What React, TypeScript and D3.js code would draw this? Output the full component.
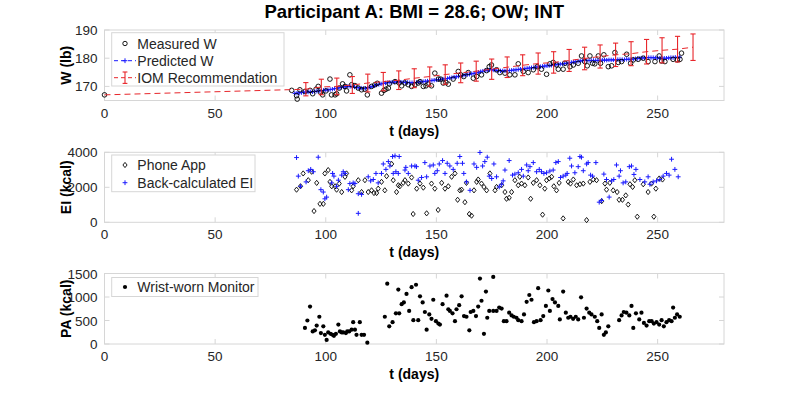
import React from "react";
import * as d3 from "d3";

const TITLE = "Participant A: BMI = 28.6; OW; INT";
const X_TICKS = [0, 50, 100, 150, 200, 250];
const W_TICKS = [170, 180, 190];
const EI_TICKS = [0, 2000, 4000];
const PA_TICKS = [0, 500, 1000, 1500];

// Measured weight [t, lb]
const MEASURED_W: [number, number][] = [
  [0, 167.0], [84.6, 168.6], [86.8, 166.7], [87.1, 165.5], [88.3, 168.8], [90.6, 168.2], [92.9, 168.6], [94.1, 167.4],
  [95.6, 169.0], [96.6, 170.0], [97.7, 167.9], [98.6, 167.0], [100.1, 168.4], [101.9, 172.6], [102.6, 167.0], [104.2, 167.0],
  [104.9, 167.4], [106.1, 169.4], [107.6, 170.9], [108.7, 170.0], [109.4, 168.4], [110.9, 174.1], [111.7, 170.6], [113.2, 170.3],
  [114.7, 169.4], [116.2, 168.8], [117.7, 169.0], [118.8, 167.0], [120.7, 170.0], [122.2, 170.6], [123.3, 171.1], [125.2, 167.6],
  [126.3, 168.6], [127.2, 169.0], [128.3, 169.4], [128.7, 170.9], [131.3, 171.7], [133.2, 171.2], [134.3, 170.2], [135.8, 171.2],
  [137.3, 170.6], [138.8, 170.0], [140.3, 170.6], [141.8, 171.2], [142.6, 171.7], [144.1, 170.0], [145.3, 170.2], [146.3, 170.8],
  [147.8, 170.2], [149.3, 174.7], [150.9, 172.6], [151.9, 172.6], [153.1, 171.2], [154.3, 171.4], [155.4, 170.8], [157.6, 172.6],
  [159.9, 175.3], [161.0, 174.1], [162.4, 173.5], [164.4, 174.9], [166.7, 172.9], [168.2, 173.5], [170.4, 174.1], [172.7, 175.6],
  [173.9, 177.0], [174.9, 177.6], [177.2, 175.9], [178.7, 174.9], [181.0, 174.7], [183.2, 174.1], [185.5, 174.1], [187.0, 178.0],
  [189.3, 175.3], [191.5, 174.9], [193.8, 175.9], [195.6, 177.0], [197.5, 176.1], [199.8, 174.3], [201.3, 178.0], [202.8, 178.5],
  [204.3, 177.6], [205.1, 176.1], [207.3, 176.1], [208.1, 178.2], [210.4, 177.0], [211.9, 177.6], [214.1, 178.2], [215.6, 180.8],
  [217.1, 178.8], [218.2, 177.3], [219.4, 180.8], [220.6, 178.2], [221.6, 178.0], [223.2, 180.8], [224.2, 178.2], [225.7, 181.2],
  [227.7, 177.0], [229.2, 177.3], [230.7, 182.0], [232.2, 178.5], [233.7, 178.8], [236.0, 181.4], [237.8, 178.2], [239.0, 179.4],
  [241.2, 179.6], [243.5, 180.0], [245.7, 178.8], [248.8, 178.8], [250.7, 180.8], [251.8, 179.0], [253.3, 178.8], [257.0, 179.6],
  [258.9, 179.4], [260.1, 179.6], [260.8, 181.8],
];

// Predicted weight, one value per day starting at PRED_START
const PRED_START = 86;
const PREDICTED_W = [
  167.5, 167.6, 167.7, 167.8, 167.9, 168.0, 168.0, 168.1, 168.1, 168.2,
  168.3, 168.4, 168.5, 168.6, 168.7, 168.8, 168.9, 169.0, 169.2, 169.3,
  169.5, 169.6, 169.8, 169.9, 170.0, 170.0, 169.9, 169.8, 169.6, 169.5,
  169.4, 169.3, 169.3, 169.5, 169.7, 170.0, 170.2, 170.5, 170.7, 170.9,
  171.1, 171.2, 171.3, 171.4, 171.5, 171.5, 171.6, 171.6, 171.5, 171.5,
  171.4, 171.4, 171.3, 171.3, 171.3, 171.4, 171.5, 171.6, 171.7, 171.8,
  171.9, 172.0, 172.1, 172.2, 172.3, 172.4, 172.5, 172.6, 172.7, 172.8,
  173.0, 173.1, 173.3, 173.4, 173.6, 173.7, 173.9, 174.0, 174.2, 174.3,
  174.5, 174.6, 174.8, 175.0, 175.2, 175.4, 175.6, 175.8, 175.9, 175.9,
  175.8, 175.7, 175.6, 175.5, 175.5, 175.5, 175.6, 175.6, 175.7, 175.8,
  175.9, 176.0, 176.1, 176.2, 176.3, 176.4, 176.5, 176.6, 176.7, 176.8,
  176.9, 177.0, 177.1, 177.2, 177.3, 177.4, 177.5, 177.6, 177.7, 177.8,
  177.9, 178.0, 178.1, 178.2, 178.3, 178.5, 178.6, 178.8, 178.9, 179.0,
  179.1, 179.2, 179.2, 179.2, 179.2, 179.2, 179.2, 179.2, 179.3, 179.3,
  179.3, 179.3, 179.4, 179.4, 179.4, 179.4, 179.5, 179.5, 179.5, 179.5,
  179.6, 179.6, 179.6, 179.7, 179.8, 179.9, 180.0, 180.1, 180.1, 180.2,
  180.2, 180.2, 180.2, 180.1, 180.1, 180.0, 180.0, 180.0, 180.0, 180.1,
  180.2, 180.2, 180.3, 180.3, 180.4,
];

// IOM recommendation
const IOM_T = [0, 91, 98, 105, 112, 119, 126, 133, 140, 147, 154, 161, 168, 175, 182, 189, 196, 203, 210, 217, 224, 231, 238, 245, 252, 259, 266];
const IOM_MEAN = [167.0, 169.0, 169.8, 170.0, 170.5, 171.2, 171.7, 172.2, 172.9, 173.5, 174.2, 174.8, 175.4, 176.1, 176.8, 177.5, 178.1, 178.5, 179.2, 179.9, 180.6, 181.2, 181.6, 182.3, 182.8, 183.2, 183.9];
const IOM_ERR = [0, 2.35, 2.75, 2.95, 3.0, 3.15, 3.25, 3.3, 3.35, 3.4, 3.45, 3.5, 3.55, 3.6, 3.65, 3.7, 3.75, 3.8, 3.9, 4.0, 4.1, 4.15, 4.25, 4.35, 4.45, 4.55, 4.7];

// Energy intake [t, kcal]
const PHONE_EI: [number, number][] = [
  [86.8, 1864], [88.6, 2058], [89.8, 2792], [92.1, 2406], [93.6, 2889], [94.7, 642], [95.9, 2251], [97.4, 1053],
  [98.9, 1053], [99.6, 2792], [101.1, 2985], [101.9, 2309], [102.7, 2058], [104.2, 2058], [104.9, 1864], [106.1, 2213],
  [107.2, 1729], [108.7, 2599], [109.4, 2792], [111.7, 1826], [112.4, 2058], [114.7, 2406], [116.2, 1730], [117.7, 2406],
  [119.2, 1730], [120.7, 1827], [121.8, 1672], [123.0, 1672], [123.7, 1923], [125.2, 2310], [126.7, 1827], [127.5, 2638],
  [129.8, 3334], [130.5, 2406], [132.0, 1730], [132.8, 2117], [133.5, 2058], [135.0, 2252], [135.8, 2406], [137.3, 2213],
  [138.8, 2561], [139.5, 474], [141.1, 1923], [142.6, 2213], [144.1, 1981], [145.6, 513], [147.8, 2213], [149.3, 1923],
  [150.8, 706], [152.4, 2252], [153.9, 1923], [155.4, 2058], [156.9, 2600], [158.4, 2793], [159.6, 1286], [160.6, 1827],
  [161.4, 1865], [162.9, 1150], [163.6, 2252], [164.9, 474], [165.9, 378], [167.0, 1827], [168.2, 2310], [168.9, 2445],
  [170.4, 2213], [171.5, 2020], [172.7, 1827], [174.2, 2793], [176.5, 1827], [177.2, 2020], [179.5, 2117], [181.0, 1730],
  [181.7, 1344], [182.9, 1401], [184.0, 1730], [185.5, 2406], [187.0, 2117], [187.7, 2600], [188.5, 2213], [190.0, 2117],
  [191.5, 2561], [192.6, 1344], [193.8, 2252], [195.3, 2406], [196.8, 2117], [198.0, 436], [199.0, 1923], [199.8, 2406],
  [201.0, 2503], [202.1, 2600], [203.1, 2058], [204.3, 1827], [205.5, 2252], [207.3, 223], [209.6, 2310], [210.6, 2213],
  [211.9, 2445], [213.4, 2117], [214.9, 2174], [216.4, 2213], [217.9, 126], [219.4, 2310], [220.9, 2445], [222.4, 2406],
  [224.7, 1208], [226.2, 2213], [226.9, 1865], [228.4, 2252], [229.9, 1827], [231.7, 1730], [232.6, 1286], [234.1, 1286],
  [235.6, 1537], [236.7, 1015], [237.5, 2174], [238.7, 2020], [239.7, 2406], [240.8, 320], [243.5, 2174], [245.7, 1730],
  [247.2, 2213], [248.3, 320], [249.2, 1923], [250.7, 2503], [252.2, 2445],
];

const BACK_EI: [number, number][] = [
  [86.8, 3699], [87.6, 2638], [88.6, 2058], [91.1, 2309], [92.1, 2947], [93.2, 3024], [94.4, 2889], [96.6, 3720],
  [97.8, 1864], [98.9, 1729], [99.6, 1343], [100.4, 1439], [102.7, 2251], [103.1, 2792], [103.7, 2638], [104.9, 2058],
  [105.7, 2406], [107.2, 2696], [107.9, 2889], [108.7, 2792], [110.2, 1864], [110.9, 2213], [112.4, 2251], [113.2, 2213],
  [114.7, 512], [114.7, 1633], [116.2, 1595], [119.2, 2599], [120.3, 2367], [121.5, 2445], [122.7, 2793], [123.7, 2252],
  [125.2, 2793], [126.0, 3334], [127.2, 3024], [128.3, 3469], [129.0, 3218], [130.2, 3759], [130.5, 2793], [131.3, 3797],
  [131.7, 2889], [132.8, 2793], [133.2, 3759], [135.8, 2986], [136.2, 3140], [137.3, 2793], [138.8, 3218], [140.3, 3218],
  [141.0, 3179], [141.8, 2406], [143.3, 2561], [144.8, 3411], [145.6, 2599], [147.1, 3218], [148.6, 3276], [149.3, 2793],
  [150.4, 2947], [151.3, 3334], [152.8, 3527], [153.9, 2793], [154.9, 3372], [156.1, 3218], [157.6, 3024], [159.4, 3372],
  [160.6, 3759], [161.8, 3372], [162.4, 2793], [163.6, 2310], [165.2, 1827], [167.0, 3334], [168.2, 3140], [169.7, 3990],
  [170.9, 3218], [171.9, 3469], [173.0, 3720], [173.9, 2638], [175.0, 2503], [176.0, 3334], [177.2, 2600], [178.4, 2020],
  [179.5, 2174], [180.2, 2368], [181.0, 2986], [182.9, 3527], [184.4, 2696], [185.5, 2754], [187.0, 2831], [188.5, 3024],
  [189.3, 2638], [190.8, 3276], [191.5, 2947], [192.3, 3179], [193.8, 3411], [195.3, 2889], [196.5, 3024], [197.5, 2889],
  [198.6, 2793], [199.8, 2831], [201.3, 2928], [202.8, 2986], [204.0, 3411], [205.1, 3469], [206.1, 2561], [207.3, 2638],
  [208.5, 2696], [209.1, 2793], [210.3, 3662], [211.1, 3218], [212.6, 2831], [214.1, 3179], [214.9, 3759], [215.6, 3720],
  [216.4, 2947], [217.9, 3334], [218.6, 3411], [219.7, 2696], [220.6, 2638], [222.1, 3411], [223.6, 1150], [224.7, 1247],
  [225.7, 2754], [226.9, 2445], [228.1, 1440], [229.2, 2368], [230.2, 2445], [231.4, 3276], [232.6, 2638], [233.2, 2947],
  [234.4, 2252], [235.6, 2310], [237.2, 3179], [238.2, 3218], [239.3, 2735], [240.2, 3024], [242.0, 2445], [244.2, 2310],
  [245.7, 2600], [246.5, 2174], [248.0, 2310], [249.5, 2368], [251.0, 2445], [252.5, 2638], [254.0, 2793], [255.2, 2696],
  [256.3, 3604], [257.8, 3024], [259.3, 2600],
];

// Physical activity [t, kcal]
const WRIST_PA: [number, number][] = [
  [90.6, 341], [91.7, 500], [92.9, 797], [94.1, 268], [95.1, 290], [95.9, 391], [97.1, 580], [97.8, 232],
  [98.9, 377], [99.6, 196], [100.4, 87], [101.1, 246], [102.2, 217], [103.1, 196], [103.7, 174], [104.6, 217],
  [105.7, 413], [106.4, 268], [107.2, 246], [107.9, 246], [109.1, 232], [109.7, 268], [110.6, 268], [111.7, 304],
  [112.4, 464], [113.2, 304], [113.9, 196], [115.4, 464], [116.2, 196], [117.3, 196], [118.8, 29], [126.7, 580],
  [127.8, 1283], [128.7, 377], [130.2, 464], [131.7, 652], [133.2, 652], [132.8, 1159], [134.3, 848], [135.3, 884],
  [136.5, 1065], [137.7, 703], [138.8, 1210], [139.6, 507], [140.8, 1261], [141.8, 507], [142.6, 1014], [143.8, 884],
  [144.8, 681], [145.6, 304], [146.8, 630], [147.8, 536], [148.6, 942], [149.8, 485], [150.9, 435], [151.6, 413],
  [152.8, 848], [154.6, 1029], [155.4, 739], [156.1, 703], [157.3, 652], [158.4, 485], [159.1, 739], [160.3, 826],
  [161.4, 1014], [162.5, 594], [163.6, 580], [164.9, 290], [165.5, 681], [166.7, 703], [167.9, 594], [168.9, 797],
  [169.7, 1391], [170.4, 920], [171.5, 217], [172.4, 1116], [173.0, 558], [173.9, 703], [175.7, 1427], [175.7, 703],
  [177.2, 703], [178.4, 775], [179.5, 754], [180.5, 485], [181.7, 485], [182.9, 667], [184.0, 609], [185.0, 580],
  [186.2, 558], [187.0, 507], [188.5, 485], [189.6, 630], [190.8, 898], [192.0, 1043], [193.0, 942], [194.1, 464],
  [195.3, 485], [196.0, 1188], [197.1, 507], [198.3, 594], [199.5, 811], [200.6, 1138], [201.3, 703], [202.5, 956],
  [203.6, 884], [205.1, 811], [205.8, 522], [207.3, 1116], [208.5, 667], [209.6, 558], [210.6, 580], [211.8, 536],
  [213.0, 580], [214.1, 522], [215.4, 993], [216.7, 558], [217.9, 754], [219.1, 667], [220.1, 630], [221.6, 580],
  [222.7, 485], [223.6, 341], [224.7, 630], [225.7, 196], [226.6, 246], [227.7, 377], [232.6, 507], [233.7, 609],
  [234.7, 681], [235.9, 667], [237.2, 609], [238.2, 811], [239.0, 341], [240.2, 652], [241.7, 522], [242.7, 667],
  [243.8, 449], [245.0, 391], [246.2, 485], [247.3, 485], [248.3, 435], [249.5, 464], [250.7, 413], [251.8, 507],
  [252.8, 377], [254.0, 464], [255.2, 507], [256.3, 485], [257.0, 775], [257.8, 558], [258.8, 630], [260.0, 580],
];

const FONT = "'Liberation Sans', Arial, Helvetica, sans-serif";
const BOX = "#d6d6d6";
const TXT = "#262626";
const RED = "#e8262b";
const BLUE = "#1a1aff";

const X0 = 104.5, X1 = 724;
const x = d3.scaleLinear().domain([0, 280]).range([X0, X1]);

const plus = (cx: number, cy: number, s = 2.6) => `M${cx - s},${cy}h${2 * s}M${cx},${cy - s}v${2 * s}`;
const diamond = (cx: number, cy: number, s = 2.6) => `M${cx},${cy - s}L${cx + s * 0.8},${cy}L${cx},${cy + s}L${cx - s * 0.8},${cy}Z`;

function Frame({ y, ticks, label }: { y: d3.ScaleLinear<number, number>; ticks: number[]; label: string }) {
  const [yb, yt] = y.range();
  const tl = 5;
  return (
    <g>
      <rect x={X0} y={yt} width={X1 - X0} height={yb - yt} fill="white" stroke={BOX} strokeWidth={1} />
      {X_TICKS.map((t) => (
        <g key={"x" + t}>
          <line x1={x(t)} x2={x(t)} y1={yb} y2={yb - tl} stroke={BOX} />
          <line x1={x(t)} x2={x(t)} y1={yt} y2={yt + tl} stroke={BOX} />
          <text x={x(t)} y={yb + 17} textAnchor="middle" fontSize={13.5} fill={TXT}>{t}</text>
        </g>
      ))}
      {ticks.map((v) => (
        <g key={"y" + v}>
          <line x1={X0} x2={X0 + tl} y1={y(v)} y2={y(v)} stroke={BOX} />
          <line x1={X1} x2={X1 - tl} y1={y(v)} y2={y(v)} stroke={BOX} />
          <text x={X0 - 7} y={y(v) + 5} textAnchor="end" fontSize={13.5} fill={TXT}>{v}</text>
        </g>
      ))}
      <text x={(X0 + X1) / 2} y={yb + 35} textAnchor="middle" fontSize={14} fontWeight="bold" fill="#000">t (days)</text>
      <text transform={`translate(71,${(yb + yt) / 2}) rotate(-90)`} textAnchor="middle" fontSize={14} fontWeight="bold" fill="#000">{label}</text>
    </g>
  );
}

export default function App() {
  const yW = d3.scaleLinear().domain([165, 190]).range([100.5, 30]);
  const yEI = d3.scaleLinear().domain([0, 4000]).range([222.3, 152.3]);
  const yPA = d3.scaleLinear().domain([0, 1500]).range([344, 273.5]);

  const predPts = PREDICTED_W.map((w, i) => [PRED_START + i, w] as [number, number]);
  const predLine = d3.line<[number, number]>().x((d) => x(d[0])).y((d) => yW(d[1]))(predPts) || "";
  const iomPts = IOM_T.map((t, i) => [t, IOM_MEAN[i]] as [number, number]);
  const iomLine = d3.line<[number, number]>().x((d) => x(d[0])).y((d) => yW(d[1]))(iomPts) || "";

  return (
    <svg width={800} height={406} style={{ position: "absolute", left: 0, top: 0, background: "white" }} fontFamily={FONT}>
      <rect x={0} y={0} width={800} height={406} fill="white" />
      <text x={(X0 + X1) / 2} y={18} textAnchor="middle" fontSize={18.5} fontWeight="bold" fill="#000">{TITLE}</text>

      {/* Panel 1 */}
      <Frame y={yW} ticks={W_TICKS} label="W (lb)" />
      <path d={predLine} fill="none" stroke={BLUE} strokeWidth={1} strokeDasharray="5,3" />
      <path d={predPts.map((d) => plus(x(d[0]), yW(d[1]), 2.2)).join("")} stroke={BLUE} strokeWidth={1} fill="none" />
      {MEASURED_W.map((d, i) => (
        <circle key={i} cx={x(d[0])} cy={yW(d[1])} r={2.3} fill="none" stroke="#000" strokeWidth={0.9} />
      ))}
      <path d={iomLine} fill="none" stroke={RED} strokeWidth={1} strokeDasharray="6,4" />
      {IOM_T.map((t, i) =>
        IOM_ERR[i] > 0 ? (
          <g key={"e" + i} stroke={RED} strokeWidth={1.1}>
            <line x1={x(t)} x2={x(t)} y1={yW(IOM_MEAN[i] - IOM_ERR[i])} y2={yW(IOM_MEAN[i] + IOM_ERR[i])} />
            <line x1={x(t) - 2.6} x2={x(t) + 2.6} y1={yW(IOM_MEAN[i] - IOM_ERR[i])} y2={yW(IOM_MEAN[i] - IOM_ERR[i])} />
            <line x1={x(t) - 2.6} x2={x(t) + 2.6} y1={yW(IOM_MEAN[i] + IOM_ERR[i])} y2={yW(IOM_MEAN[i] + IOM_ERR[i])} />
          </g>
        ) : null
      )}
      {/* Legend 1 */}
      <g>
        <rect x={111.7} y={32.7} width={172.3} height={53.3} fill="white" stroke={BOX} />
        <circle cx={125} cy={43.5} r={2.2} fill="none" stroke="#000" strokeWidth={0.9} />
        <text x={137.3} y={48.5} fontSize={14} fill={TXT}>Measured W</text>
        <line x1={114} x2={136} y1={60.7} y2={60.7} stroke={BLUE} strokeDasharray="4,3" />
        <path d={plus(125, 60.7, 2.4)} stroke={BLUE} />
        <text x={137.3} y={65.7} fontSize={14} fill={TXT}>Predicted W</text>
        <line x1={114} x2={136} y1={77.7} y2={77.7} stroke={RED} strokeDasharray="4,3" />
        <g stroke={RED} strokeWidth={1.1}>
          <line x1={125} x2={125} y1={72} y2={83.4} />
          <line x1={122.6} x2={127.4} y1={72} y2={72} />
          <line x1={122.6} x2={127.4} y1={83.4} y2={83.4} />
        </g>
        <text x={137.3} y={82.7} fontSize={14} fill={TXT}>IOM Recommendation</text>
      </g>

      {/* Panel 2 */}
      <Frame y={yEI} ticks={EI_TICKS} label="EI (kcal)" />
      <path d={PHONE_EI.map((d) => diamond(x(d[0]), yEI(d[1]))).join("")} fill="none" stroke="#000" strokeWidth={0.9} />
      <path d={BACK_EI.map((d) => plus(x(d[0]), yEI(d[1]), 2.4)).join("")} fill="none" stroke={BLUE} strokeWidth={1} />
      <g>
        <rect x={111.7} y={155} width={143.3} height={36.7} fill="white" stroke={BOX} />
        <path d={diamond(125, 165)} fill="none" stroke="#000" strokeWidth={0.9} />
        <text x={137.3} y={170} fontSize={14} fill={TXT}>Phone App</text>
        <path d={plus(125, 182.7, 2.4)} stroke={BLUE} />
        <text x={137.3} y={187.7} fontSize={14} fill={TXT}>Back-calculated EI</text>
      </g>

      {/* Panel 3 */}
      <Frame y={yPA} ticks={PA_TICKS} label="PA (kcal)" />
      {WRIST_PA.map((d, i) => (
        <circle key={i} cx={x(d[0])} cy={yPA(d[1])} r={2.1} fill="#000" />
      ))}
      <g>
        <rect x={111.7} y={277.5} width={146.3} height={19} fill="white" stroke={BOX} />
        <circle cx={125} cy={287} r={2.1} fill="#000" />
        <text x={137.3} y={292} fontSize={14} fill={TXT}>Wrist-worn Monitor</text>
      </g>
    </svg>
  );
}
